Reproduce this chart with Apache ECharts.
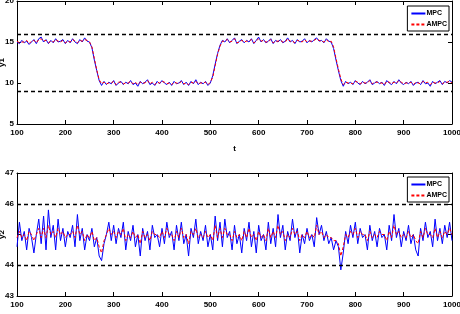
<!DOCTYPE html>
<html>
<head>
<meta charset="utf-8">
<script src="https://cdn.jsdelivr.net/npm/echarts@6/dist/echarts.min.js"></script>
<style>
  html, body { margin: 0; padding: 0; background: #fff; }
  #chart { width: 460px; height: 314px; }
</style>
</head>
<body>
<div id="chart"></div>
<script>
// sample grid: t = 100, 105, ..., 1000
var tStart = 100
var tStep = 5

// y1 (top panel)
var y1Mpc = [
  15.0, 14.8, 15.2, 14.9, 15.1, 14.7, 15.0, 15.3, 14.8, 15.4,
  15.6, 15.0, 15.3, 14.8, 15.2, 14.9, 15.4, 15.0, 15.1, 15.3,
  14.8, 15.2, 14.9, 15.4, 15.0, 14.8, 15.3, 15.0, 15.5, 15.1,
  15.0,
  14.3, 12.8, 11.5, 10.3, 9.7,
  10.2, 9.8, 10.1, 9.9, 10.3, 9.7, 10.0, 10.2, 9.8, 10.1,
  9.9, 10.3, 9.8, 10.0, 9.6, 10.2, 9.9, 10.1, 10.4, 9.8,
  10.0, 9.7, 10.2, 9.9, 10.3, 10.0, 9.8, 10.1, 9.7, 10.2,
  9.9, 10.0, 10.3, 9.8, 10.1, 9.7, 10.2, 9.9, 10.4, 9.8,
  10.1, 9.9, 10.2, 9.7, 10.0,
  10.9, 12.3, 13.6, 14.6, 15.2,
  15.0, 15.4, 14.9, 15.2, 15.5, 14.8, 15.1, 15.3, 14.9, 15.2,
  15.0, 15.4, 14.8, 15.2, 15.6, 15.0, 15.3, 14.9, 15.1, 15.4,
  14.8, 15.2, 15.0, 15.3, 14.9, 15.1, 15.5, 15.0, 15.2, 14.8,
  15.3, 15.0, 15.1, 15.4, 14.9, 15.2, 15.0, 15.3, 15.5, 15.1,
  15.2, 14.9, 15.4, 15.1,
  15.0, 14.2, 12.8, 11.5, 10.3, 9.6,
  10.2, 9.9, 10.1, 9.8, 10.3, 10.0, 9.8, 10.2, 9.9, 10.1,
  10.4, 9.8, 10.0, 10.2, 9.9, 10.1, 9.7, 10.3, 10.0, 9.8,
  10.2, 9.9, 10.4, 10.0, 9.8, 10.1, 9.9, 10.2, 9.7, 10.0,
  10.1, 9.8, 10.3, 9.9, 10.0, 9.6, 10.2, 9.9, 10.1, 10.3,
  9.8, 10.2, 10.0, 10.3, 10.1
]
var y1Ampc = [
  15.1, 14.9, 15.0, 15.0, 15.2, 14.8, 15.1, 15.2, 14.9, 15.3,
  15.4, 15.1, 15.2, 14.9, 15.1, 15.0, 15.3, 15.1, 15.0, 15.2,
  14.9, 15.1, 15.0, 15.3, 15.1, 14.9, 15.2, 15.1, 15.3, 15.2,
  15.0,
  14.4, 13.0, 11.6, 10.4, 9.9,
  10.1, 9.9, 10.0, 10.0, 10.2, 9.8, 10.1, 10.1, 9.9, 10.0,
  10.0, 10.2, 9.9, 10.1, 9.8, 10.1, 10.0, 10.0, 10.3, 9.9,
  10.1, 9.8, 10.1, 10.0, 10.2, 10.1, 9.9, 10.0, 9.8, 10.1,
  10.0, 9.9, 10.2, 9.9, 10.0, 9.8, 10.1, 10.0, 10.2, 9.9,
  10.0, 10.0, 10.1, 9.8, 10.1,
  10.7, 12.1, 13.5, 14.5, 15.1,
  15.1, 15.3, 15.0, 15.1, 15.4, 14.9, 15.0, 15.2, 15.0, 15.1,
  15.1, 15.3, 14.9, 15.1, 15.4, 15.1, 15.2, 15.0, 15.0, 15.3,
  14.9, 15.1, 15.1, 15.2, 15.0, 15.0, 15.4, 15.1, 15.1, 14.9,
  15.2, 15.1, 15.0, 15.3, 15.0, 15.1, 15.1, 15.2, 15.4, 15.2,
  15.1, 15.0, 15.3, 15.0,
  15.1, 14.4, 13.0, 11.7, 10.5, 9.8,
  10.1, 10.0, 10.0, 9.9, 10.2, 10.1, 9.9, 10.1, 10.0, 10.0,
  10.3, 9.9, 10.1, 10.1, 10.0, 10.0, 9.8, 10.2, 10.1, 9.9,
  10.1, 10.0, 10.3, 10.1, 9.9, 10.0, 10.0, 10.1, 9.8, 10.1,
  10.0, 9.9, 10.2, 10.0, 10.1, 9.8, 10.1, 10.0, 10.0, 10.2,
  9.9, 10.1, 10.1, 10.2, 10.0
]

// y2 (bottom panel)
var y2Mpc = [
  44.6, 45.4, 44.8, 45.1, 44.5, 45.2, 44.9, 44.4, 45.0, 45.5,
  44.7, 45.6, 44.5, 45.8, 44.9, 45.3, 44.5, 45.5, 44.8, 45.2,
  44.6, 45.1, 44.9, 45.3, 44.6, 45.65, 44.8, 45.2, 44.5, 45.0,
  44.8, 45.2, 44.6, 44.9, 44.3, 44.15, 44.7, 45.0, 45.4, 44.8,
  45.3, 44.7, 45.2, 44.9, 45.4, 44.5, 45.1, 44.8, 45.3, 44.6,
  45.0, 44.3, 45.2, 44.8, 45.1, 44.5, 45.3, 44.9, 45.0, 44.6,
  45.2, 44.7, 45.4, 44.9, 45.1, 44.5, 45.3, 44.8, 45.4, 44.7,
  45.0, 44.3, 45.2, 44.9, 45.5, 44.7, 45.1, 44.8, 45.3, 44.6,
  45.0, 44.5, 45.6, 44.8, 45.4, 44.6, 45.5, 44.9, 45.1, 44.5,
  45.3, 44.7, 45.0, 44.4, 45.2, 44.8, 45.4, 44.6, 45.1, 44.4,
  45.3, 44.8, 45.0, 44.5, 45.4, 44.7, 45.2, 44.6, 45.65, 44.9,
  45.3, 44.5, 45.1, 44.8, 45.5, 44.9, 45.2, 44.4, 45.0, 44.7,
  45.2, 44.8, 45.0, 44.6, 45.55, 45.0, 45.3, 44.8, 45.1, 44.7,
  44.9, 44.5, 44.8, 44.6, 43.85, 44.4, 45.1, 44.7, 45.3, 44.9,
  45.4, 44.7, 45.2, 44.9, 45.0, 44.5, 45.3, 44.8, 45.1, 44.6,
  45.2, 44.9, 45.0, 44.5, 45.3, 44.8, 45.65, 44.9, 45.2, 44.6,
  45.1, 44.8, 45.3, 44.7, 45.0, 44.5, 44.3, 45.2, 44.8, 45.4,
  44.9, 45.1, 44.6, 45.5, 44.8, 45.2, 44.7, 45.3, 44.9, 45.4,
  44.8
]
var y2Ampc = [
  44.9, 45.1, 44.9, 45.0, 44.8, 45.1, 45.0, 44.8, 45.0, 45.2,
  44.9, 45.2, 44.9, 45.3, 45.0, 45.1, 44.9, 45.2, 45.0, 45.1,
  44.9, 45.0, 45.0, 45.1, 44.9, 45.3, 45.0, 45.1, 44.8, 45.0,
  44.9, 45.1, 44.8, 44.9, 44.6, 44.4, 44.8, 45.0, 45.2, 45.0,
  45.1, 44.9, 45.1, 45.0, 45.2, 44.8, 45.0, 44.9, 45.1, 44.9,
  45.0, 44.7, 45.1, 44.9, 45.0, 44.8, 45.1, 45.0, 45.0, 44.9,
  45.1, 44.9, 45.2, 45.0, 45.0, 44.8, 45.1, 44.9, 45.2, 44.9,
  45.0, 44.7, 45.1, 45.0, 45.2, 44.9, 45.0, 44.9, 45.1, 44.9,
  45.0, 44.8, 45.3, 44.9, 45.2, 44.9, 45.2, 45.0, 45.0, 44.8,
  45.1, 44.9, 45.0, 44.8, 45.1, 44.9, 45.2, 44.9, 45.0, 44.8,
  45.1, 44.9, 45.0, 44.8, 45.2, 44.9, 45.1, 44.9, 45.3, 45.0,
  45.1, 44.8, 45.0, 44.9, 45.2, 45.0, 45.1, 44.8, 45.0, 44.9,
  45.1, 44.9, 45.0, 44.9, 45.3, 45.0, 45.1, 44.9, 45.0, 44.9,
  44.9, 44.8, 44.8, 44.7, 44.3, 44.6, 45.0, 44.9, 45.1, 45.0,
  45.2, 44.9, 45.1, 45.0, 45.0, 44.8, 45.1, 44.9, 45.0, 44.9,
  45.1, 45.0, 45.0, 44.8, 45.1, 44.9, 45.3, 45.0, 45.1, 44.9,
  45.0, 44.9, 45.1, 44.9, 45.0, 44.8, 44.7, 45.1, 44.9, 45.2,
  45.0, 45.0, 44.9, 45.2, 44.9, 45.1, 44.9, 45.1, 45.0, 45.2,
  45.0
]

// constraint lines
var y1Bounds = [16, 9]
var y2Bounds = [46, 44]

function pairs(vals) {
  return vals.map(function (v, i) { return [tStart + i * tStep, v] })
}

var font = 'Liberation Sans Narrow, Arial Narrow, Liberation Sans, sans-serif'
var lbl = { color: '#000', fontSize: 8, fontWeight: 'bold', fontFamily: font }

function xAx(grid, top) {
  return {
    type: 'value', gridIndex: grid, min: 100, max: 1000, interval: 100,
    position: top ? 'top' : 'bottom',
    name: top ? '' : (grid === 0 ? 't' : ''),
    nameLocation: 'middle', nameGap: 21, nameTextStyle: lbl,
    axisLine: { onZero: false, lineStyle: { color: '#000', width: 1 } },
    axisTick: { inside: true, length: 4, lineStyle: { color: '#000' } },
    axisLabel: Object.assign({ show: !top, margin: 5, formatter: function (v) { return String(v) } }, lbl),
    splitLine: { show: false }
  }
}
// hide: tick value whose label sits under the axis name (as in the original)
function yAx(grid, right, min, max, step, name, hide) {
  return {
    type: 'value', gridIndex: grid, min: min, max: max, interval: step,
    position: right ? 'right' : 'left',
    name: right ? '' : name,
    nameLocation: 'middle', nameGap: 11, nameRotate: 90, nameMoveOverlap: false,
    nameTextStyle: lbl,
    axisLine: { onZero: false, lineStyle: { color: '#000', width: 1 } },
    axisTick: { inside: true, length: 4, lineStyle: { color: '#000' } },
    axisLabel: Object.assign({
      show: !right, margin: 3,
      formatter: function (v) { return v === hide ? '' : String(v) }
    }, lbl),
    splitLine: { show: false }
  }
}
function bounds(vals) {
  return {
    silent: true, symbol: 'none', label: { show: false },
    lineStyle: { color: '#000', type: [4, 3], width: 1.3 },
    data: vals.map(function (v) { return { yAxis: v } })
  }
}
function legendAt(top) {
  return {
    orient: 'vertical', right: 11, top: top, itemWidth: 14, itemHeight: 8, itemGap: 4,
    padding: [4, 2, 3, 3], borderColor: '#000', borderWidth: 1, backgroundColor: '#fff',
    itemStyle: { opacity: 0 },
    textStyle: { fontSize: 7, fontWeight: 'bold', fontFamily: font, color: '#000', padding: [0, 0, 0, -4] },
    data: ['MPC', 'AMPC']
  }
}

var chart = echarts.init(document.getElementById('chart'))
chart.setOption({
  backgroundColor: '#fff',
  animation: false,
  grid: [
    { left: 17, right: 8, top: 1, height: 123, outerBoundsMode: 'none', containLabel: false },
    { left: 17, right: 8, top: 173, height: 123, outerBoundsMode: 'none', containLabel: false }
  ],
  legend: [legendAt(6), legendAt(177)],
  xAxis: [xAx(0, false), xAx(0, true), xAx(1, false), xAx(1, true)],
  yAxis: [
    yAx(0, false, 5, 20, 5, 'y1'), yAx(0, true, 5, 20, 5, ''),
    yAx(1, false, 43, 47, 1, 'y2', 45), yAx(1, true, 43, 47, 1, '')
  ],
  series: [
    {
      name: 'MPC', type: 'line', xAxisIndex: 0, yAxisIndex: 0, data: pairs(y1Mpc),
      symbol: 'none', lineStyle: { color: '#0000ff', width: 1 }, itemStyle: { color: '#0000ff' },
      markLine: bounds(y1Bounds)
    },
    {
      name: 'AMPC', type: 'line', xAxisIndex: 0, yAxisIndex: 0, data: pairs(y1Ampc),
      symbol: 'none', lineStyle: { color: '#ff0000', width: 1, type: [3, 2] }, itemStyle: { color: '#ff0000' }
    },
    {
      name: 'MPC', type: 'line', xAxisIndex: 2, yAxisIndex: 2, data: pairs(y2Mpc),
      symbol: 'none', lineStyle: { color: '#0000ff', width: 1 }, itemStyle: { color: '#0000ff' },
      markLine: bounds(y2Bounds)
    },
    {
      name: 'AMPC', type: 'line', xAxisIndex: 2, yAxisIndex: 2, data: pairs(y2Ampc),
      symbol: 'none', lineStyle: { color: '#ff0000', width: 1, type: [3, 2] }, itemStyle: { color: '#ff0000' }
    }
  ]
})
</script>
</body>
</html>
